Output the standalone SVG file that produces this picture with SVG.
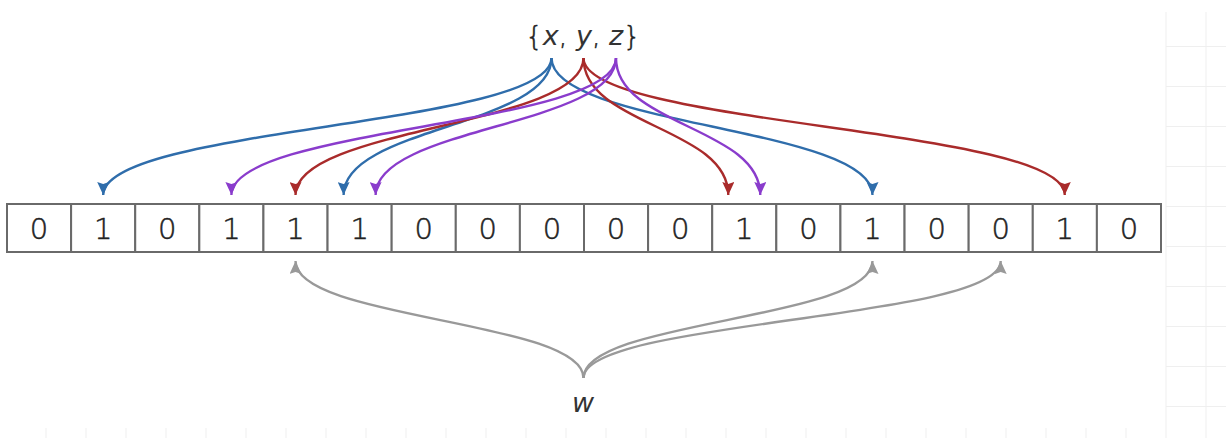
<svg xmlns="http://www.w3.org/2000/svg" width="1226" height="438" viewBox="0 0 1226 438">
<style>
.cell rect{fill:#fff;stroke:#6a6a6a;stroke-width:2}
.cell text{font-family:"DejaVu Sans",sans-serif;font-size:29px;font-weight:200;fill:#222;stroke:#222;stroke-width:0.5;text-anchor:middle}
.lbl{font-family:"DejaVu Sans",sans-serif;font-size:27px;font-weight:200;fill:#222;stroke:#222;stroke-width:0.5;text-anchor:middle}
.it{font-style:italic;font-weight:normal;stroke:none;fill:#333}
.c{fill:none;stroke-width:2.4}
.b{stroke:#2f6dab}.r{stroke:#a92b2b}.p{stroke:#8a3ccc}.g{stroke:#999}
.grid{stroke:#efefef;stroke-width:1;fill:none}
</style>
<defs>
<marker id="mb" markerUnits="userSpaceOnUse" markerWidth="13" markerHeight="12" viewBox="0 0 13 12" refX="13" refY="6" orient="auto"><path d="M0,0 L13,6 L0,12 L2,6 z" fill="#2f6dab"/></marker>
<marker id="mr" markerUnits="userSpaceOnUse" markerWidth="13" markerHeight="12" viewBox="0 0 13 12" refX="13" refY="6" orient="auto"><path d="M0,0 L13,6 L0,12 L2,6 z" fill="#a92b2b"/></marker>
<marker id="mp" markerUnits="userSpaceOnUse" markerWidth="13" markerHeight="12" viewBox="0 0 13 12" refX="13" refY="6" orient="auto"><path d="M0,0 L13,6 L0,12 L2,6 z" fill="#8a3ccc"/></marker>
<marker id="mg" markerUnits="userSpaceOnUse" markerWidth="13" markerHeight="12" viewBox="0 0 13 12" refX="13" refY="6" orient="auto"><path d="M0,0 L13,6 L0,12 L2,6 z" fill="#999"/></marker>
</defs>
<rect width="1226" height="438" fill="#fff"/>
<g id="grid" class="grid">
<path d="M1166,12 V438 M1206,12 V438"/>
<path d="M1166,46.5 H1226 M1166,86.5 H1226 M1166,126.5 H1226 M1166,166.5 H1226 M1166,206.5 H1226 M1166,246.5 H1226 M1166,286.5 H1226 M1166,326.5 H1226 M1166,366.5 H1226 M1166,406.5 H1226"/>
<path d="M46,428 V438 M86,428 V438 M126,428 V438 M166,428 V438 M206,428 V438 M246,428 V438 M286,428 V438 M326,428 V438 M366,428 V438 M406,428 V438 M446,428 V438 M486,428 V438 M526,428 V438 M566,428 V438 M606,428 V438 M646,428 V438 M686,428 V438 M726,428 V438 M766,428 V438 M806,428 V438 M846,428 V438 M886,428 V438 M926,428 V438 M966,428 V438 M1006,428 V438 M1046,428 V438 M1086,428 V438 M1126,428 V438"/>
</g>
<g id="array">
<g id="cell0" class="cell"><rect x="7" y="204" width="64.11" height="48"/><text x="39.06" y="239">0</text></g>
<g id="cell1" class="cell"><rect x="71.11" y="204" width="64.11" height="48"/><text x="103.17" y="239">1</text></g>
<g id="cell2" class="cell"><rect x="135.22" y="204" width="64.11" height="48"/><text x="167.28" y="239">0</text></g>
<g id="cell3" class="cell"><rect x="199.33" y="204" width="64.11" height="48"/><text x="231.39" y="239">1</text></g>
<g id="cell4" class="cell"><rect x="263.44" y="204" width="64.11" height="48"/><text x="295.5" y="239">1</text></g>
<g id="cell5" class="cell"><rect x="327.56" y="204" width="64.11" height="48"/><text x="359.61" y="239">1</text></g>
<g id="cell6" class="cell"><rect x="391.67" y="204" width="64.11" height="48"/><text x="423.72" y="239">0</text></g>
<g id="cell7" class="cell"><rect x="455.78" y="204" width="64.11" height="48"/><text x="487.83" y="239">0</text></g>
<g id="cell8" class="cell"><rect x="519.89" y="204" width="64.11" height="48"/><text x="551.94" y="239">0</text></g>
<g id="cell9" class="cell"><rect x="584" y="204" width="64.11" height="48"/><text x="616.06" y="239">0</text></g>
<g id="cell10" class="cell"><rect x="648.11" y="204" width="64.11" height="48"/><text x="680.17" y="239">0</text></g>
<g id="cell11" class="cell"><rect x="712.22" y="204" width="64.11" height="48"/><text x="744.28" y="239">1</text></g>
<g id="cell12" class="cell"><rect x="776.33" y="204" width="64.11" height="48"/><text x="808.39" y="239">0</text></g>
<g id="cell13" class="cell"><rect x="840.44" y="204" width="64.11" height="48"/><text x="872.5" y="239">1</text></g>
<g id="cell14" class="cell"><rect x="904.56" y="204" width="64.11" height="48"/><text x="936.61" y="239">0</text></g>
<g id="cell15" class="cell"><rect x="968.67" y="204" width="64.11" height="48"/><text x="1000.72" y="239">0</text></g>
<g id="cell16" class="cell"><rect x="1032.78" y="204" width="64.11" height="48"/><text x="1064.83" y="239">1</text></g>
<g id="cell17" class="cell"><rect x="1096.89" y="204" width="64.11" height="48"/><text x="1128.94" y="239">0</text></g>
</g>
<g id="set"><text class="lbl" x="583" y="45">{<tspan class="it">x</tspan>, <tspan class="it">y</tspan>, <tspan class="it">z</tspan>}</text></g>
<g id="query"><text class="lbl it" x="583" y="412">w</text></g>
<g id="connectors">
<path class="c b" marker-end="url(#mb)" d="M551.5,58 C551.5,126 103.2,127 103.2,195"/>
<path class="c b" marker-end="url(#mb)" d="M551.5,58 C551.5,126 343.6,127 343.6,195"/>
<path class="c b" marker-end="url(#mb)" d="M551.5,58 C551.5,126 872.5,127 872.5,195"/>
<path class="c r" marker-end="url(#mr)" d="M583.5,58 C583.5,126 295.5,127 295.5,195"/>
<path class="c r" marker-end="url(#mr)" d="M583.5,58 C583.5,126 728.3,127 728.3,195"/>
<path class="c r" marker-end="url(#mr)" d="M583.5,58 C583.5,126 1064.8,127 1064.8,195"/>
<path class="c p" marker-end="url(#mp)" d="M616,58 C616,126 231.4,127 231.4,195"/>
<path class="c p" marker-end="url(#mp)" d="M616,58 C616,126 375.6,127 375.6,195"/>
<path class="c p" marker-end="url(#mp)" d="M616,58 C616,126 760.3,127 760.3,195"/>
<path class="c g" marker-end="url(#mg)" d="M583.5,378 C583.5,320 295.5,320 295.5,261"/>
<path class="c g" marker-end="url(#mg)" d="M583.5,378 C583.5,320 872.5,320 872.5,261"/>
<path class="c g" marker-end="url(#mg)" d="M583.5,378 C583.5,320 1000.7,320 1000.7,261"/>
</g>
</svg>
